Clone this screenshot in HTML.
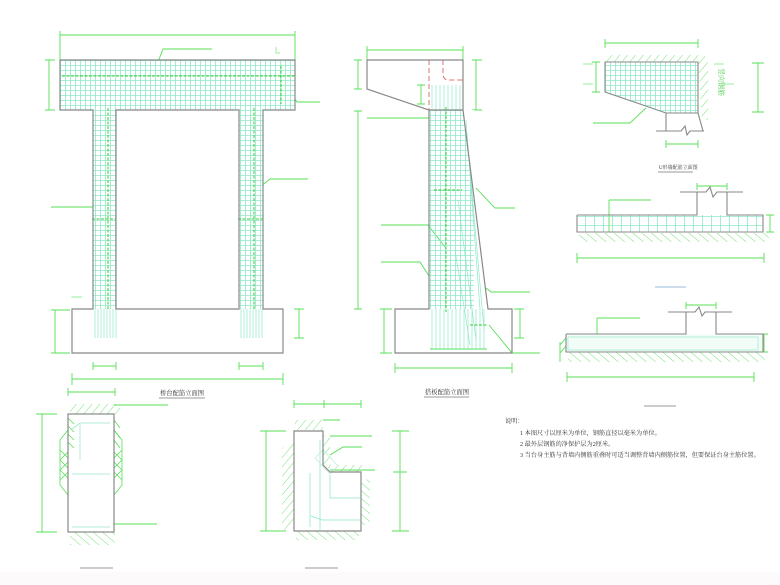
<!DOCTYPE html>
<html><head><meta charset="utf-8"><style>
html,body{margin:0;padding:0;background:#fff;}
svg{display:block;}
text{font-family:"Liberation Serif","Noto Serif CJK SC","Noto Sans CJK SC",serif;}
</style></head><body>
<svg width="780" height="585" viewBox="0 0 780 585" xmlns="http://www.w3.org/2000/svg">
<defs>
<pattern id="grid" width="5" height="5" patternUnits="userSpaceOnUse">
<path d="M0 0.5H5M0.5 0V5" stroke="#8fe8c8" stroke-width="0.8" fill="none"/>
</pattern>
<pattern id="grid2" width="9" height="9" patternUnits="userSpaceOnUse">
<path d="M0 0.5H9M0.5 0V9" stroke="#8fe8c8" stroke-width="0.8" fill="none"/>
</pattern>
<pattern id="hatch" width="6" height="6" patternUnits="userSpaceOnUse" patternTransform="rotate(40)">
<path d="M0 0V6" stroke="#4ddd4d" stroke-width="0.8"/>
</pattern>
<pattern id="hatchR" width="6" height="6" patternUnits="userSpaceOnUse" patternTransform="rotate(-50)">
<path d="M0 0V6" stroke="#4ddd4d" stroke-width="0.8"/>
</pattern>
</defs>
<rect width="780" height="585" fill="#fff"/>
<rect x="0" y="572" width="780" height="13" fill="#fdfafb"/>

<g fill="none" stroke="#55e055" stroke-width="0.9">
<path d="M60 35H295M60 31V60M295 31V60"/>
<path d="M49 60V110M45 60H55M45 110H55"/>
<path d="M55 310V353M51 310H70M51 353H70"/>
<path d="M299 309V338M294 309H304M294 338H304"/>
<path d="M72 379H283M72 373V385M283 373V385"/>
<path d="M93 366H116M93 362V370M116 362V370M239 366H263M239 362V370M263 362V370"/>
<path d="M68 392H115M68 388V396M115 388V396"/>
<path d="M153 75L163 49H212M283 82L297 102H320M110 187L121 179H162M260 187L270 179H308M51 207H96L100 219M198 207H245L249 219"/>
<path d="M276 47V53H280M276 103V109H280M72 298V297H82M127 297H137V299" stroke="#99ee99"/>
<path d="M367 50H463M367 46V60M463 46V60"/>
<path d="M358 111V309M354 111H362M354 309H362"/>
<path d="M358 60V89M354 60H362M354 89H362"/>
<path d="M476 60V110M472 60H482M472 110H482"/>
<path d="M384 309V353M380 309H392M380 353H392"/>
<path d="M520 309V338M514 309H524M514 338H524"/>
<path d="M395 368H512M395 363V373M512 363V373"/>
<path d="M367 118H429M421 85V104M417 85H425M417 104H425"/>
<path d="M381 225H428L445 247M381 262H420L429 276M476 188L495 208H515M486 288L491 292H530M489 325L512 353H540"/>
<path d="M430 349H487"/>
<path d="M605 43H698M605 39V48M698 39V48"/>
<path d="M596 62V92M592 62H600M592 92H600"/>
<path d="M758 63V112M752 63H764M752 112H764"/>
<path d="M666 144H698M666 140V148M698 140V148"/>
<path d="M593 64H583M583 84H593M714 64H724M724 84H734" stroke="#99ee99"/>
<path d="M593 123H630L646 108"/>
<path d="M697 186H727M697 183V190M727 183V190"/>
<path d="M609 200H651M609 200V232"/>
<path d="M577 258H764M577 253V263M764 253V263"/>
<path d="M770 215V232M766 215H774M766 232H774"/>
<path d="M686 305H716M686 302V309M716 302V309"/>
<path d="M597 318H640M597 318V352"/>
<path d="M567 377H754M567 372V382M754 372V382"/>
<path d="M764 334V352M760 334H768M760 352H768"/>
<path d="M560 345L566 338M560 353L566 346M560 362V342"/>
<path d="M42 414V532M36 414H57M36 532H57"/>
<path d="M114 405H168M114 524H157"/>
<path d="M294 404H361M294 400V408M324 400V408M361 400V408"/>
<path d="M266 431V531M260 431H286M260 531H286"/>
<path d="M400 431V531M392 431H409M392 531H409M393 472H407"/>
<path d="M323 420H340M330 436H372M330 455L343 447H362M330 470H375"/>
</g>

<path d="M60 60H295V110H263V309H283V353H72V309H93V110H60Z" fill="#fff" stroke="none"/>
<rect x="60" y="60" width="235" height="50" fill="url(#grid)"/>
<rect x="93" y="110" width="23" height="199" fill="url(#grid)"/>
<rect x="239" y="110" width="24" height="199" fill="url(#grid)"/>
<g stroke="#8fe8c8" stroke-width="0.7">
<path d="M95 309V338M98 309V338M101 309V338M104 309V338M107 309V338M110 309V338M113 309V338M116 309V338"/>
<path d="M241 309V338M244 309V338M247 309V338M250 309V338M253 309V338M256 309V338M259 309V338M262 309V338"/>
</g>
<g stroke="#33cc33" stroke-width="1" stroke-dasharray="3 1.5">
<path d="M62 76H295M281 66V104M108 108V310M254 108V310M92 219H116M238 219H263"/>
</g>
<path d="M60 60H295V110H263V309H283V353H72V309H93V110H60ZM116 110H239V309H116Z" fill="none" stroke="#888" stroke-width="1.2"/>
<text x="160" y="395" font-size="6.3" fill="#333">桥台配筋立面图</text>
<path d="M159 398H205" stroke="#999" stroke-width="1"/>

<rect x="429" y="110" width="45" height="199" fill="url(#grid)"/>
<path d="M463 110L488 309H474V110Z" fill="#fff"/>
<g stroke="#8fe8c8" stroke-width="0.7">
<path d="M432 85V110M436 85V110M440 85V110M444 85V110M448 85V110M452 85V110M456 85V110M460 85V110"/>
<path d="M432 309V350M436 309V350M440 309V350M444 309V350M448 309V350M452 309V350M456 309V350M460 309V350M464 309V350M468 309V350M472 309V350M476 309V350M480 309V350M484 309V350"/>
<path d="M466 120L480 309M470 170L484 330M458 200L476 340M455 250L470 345"/>
</g>
<g stroke="#33cc33" stroke-width="1" stroke-dasharray="3 1.5">
<path d="M446 107V312M434 190H462M470 325H488"/>
</g>
<path d="M429 60V110M443 60V74Q443 80 449 80H463" fill="none" stroke="#e07070" stroke-width="1" stroke-dasharray="5 3"/>
<path d="M367 60H463V110L488 309H512V353H395V309H429V110L367 89Z M429 110H463" fill="none" stroke="#888" stroke-width="1.2"/>
<text x="425" y="394" font-size="6.3" fill="#333">搭板配筋立面图</text>
<path d="M424 397H469" stroke="#999" stroke-width="1"/>

<path d="M605 62H698V113H666L605 92Z" fill="url(#grid)"/>
<rect x="605" y="55" width="100" height="7" fill="url(#hatch)"/>
<path d="M698 62H708L708 120L702 120Z" fill="url(#hatch)"/>
<path d="M605 62H698V113H666L605 92Z" fill="none" stroke="#888" stroke-width="1.1"/>
<path d="M666 113V131M698 113L703 131M656 131H681L685 126L687 135L690 131H704" fill="none" stroke="#888" stroke-width="1.1"/>
<text x="0" y="0" font-size="7" fill="#44cc44" transform="translate(719,68) rotate(90)">竖向钢筋</text>
<text x="659" y="169" font-size="5" fill="#333">U形墙配筋立面图</text>
<path d="M658 172H693" stroke="#999" stroke-width="1"/>

<rect x="577" y="215" width="186" height="17" fill="url(#grid2)"/>
<rect x="579" y="233" width="190" height="9" fill="url(#hatchR)"/>
<path d="M577 215H697V192M727 192V215H763V232H577V215" fill="none" stroke="#888" stroke-width="1.1"/>
<path d="M680 192H706L710 187L713 197L717 192H743" fill="none" stroke="#888" stroke-width="1.1"/>
<path d="M655 287H686" stroke="#9bd" stroke-width="1"/>

<rect x="566" y="334" width="197" height="18" fill="#f2fdf8"/>
<rect x="568" y="337" width="190" height="13" fill="none" stroke="#9ee8cc" stroke-width="0.7"/>
<rect x="568" y="352" width="197" height="10" fill="url(#hatchR)"/>
<path d="M566 334H686V312M716 312V334H763V352H566V334" fill="none" stroke="#888" stroke-width="1.1"/>
<path d="M668 312H695L699 307L702 316L705 312H732" fill="none" stroke="#888" stroke-width="1.1"/>
<path d="M644 406H676" stroke="#999" stroke-width="1"/>

<rect x="70" y="404" width="50" height="10" fill="url(#hatch)"/>
<rect x="70" y="532" width="45" height="13" fill="url(#hatchR)"/>
<path d="M68 430L60 440V485L68 495M114 430L122 440V485L114 495" fill="none" stroke="#55e055" stroke-width="0.8"/>
<path d="M60 450L68 458M60 460L68 468M60 470L68 478M60 460L68 452M60 470L68 462M60 480L68 472M122 450L114 458M122 460L114 468M122 470L114 478M122 460L114 452M122 470L114 462M122 480L114 472" stroke="#55e055" stroke-width="0.8"/>
<path d="M68 418L74 424M68 426L74 432M68 434L74 440M68 442L74 448M114 420L120 428M114 430L120 438M114 440L120 448" stroke="#55e055" stroke-width="0.8"/>
<path d="M72 429L80 423H110M80 423V460M72 474H110M72 527H110" fill="none" stroke="#9ee8cc" stroke-width="0.8"/>
<rect x="68" y="414" width="46" height="118" fill="none" stroke="#888" stroke-width="1.2"/>
<path d="M80 568H113" stroke="#999" stroke-width="1"/>

<rect x="295" y="420" width="28" height="10" fill="url(#hatch)"/>
<path d="M282 448L294 440V528L282 530Z" fill="url(#hatch)"/>
<path d="M323 436L330 432V462L323 466Z" fill="url(#hatch)"/>
<rect x="328" y="465" width="34" height="7" fill="url(#hatch)"/>
<path d="M361 482L370 478V523L361 526Z" fill="url(#hatchR)"/>
<rect x="296" y="531" width="63" height="9" fill="url(#hatchR)"/>
<path d="M310 473V527M320 440V530M330 475V498H360M311 516L322 520H360" fill="none" stroke="#8fe8c8" stroke-width="0.8"/>
<path d="M315 458L323 450L338 466L330 474Z" fill="none" stroke="#bfeedd" stroke-width="0.8"/>
<path d="M294 431H323V465L330 472H361V531H294Z" fill="none" stroke="#888" stroke-width="1.2"/>
<path d="M305 568H338" stroke="#999" stroke-width="1"/>

<g font-size="6.2" fill="#333">
<text x="505" y="423">说明：</text>
<text x="520" y="435">1 本图尺寸以厘米为单位，钢筋直径以毫米为单位。</text>
<text x="520" y="446">2 最外层钢筋的净保护层为2厘米。</text>
<text x="520" y="457">3 当台身主筋与背墙内侧筋重叠时可适当调整背墙内侧筋位置，但要保证台身主筋位置。</text>
</g>
</svg>
</body></html>
